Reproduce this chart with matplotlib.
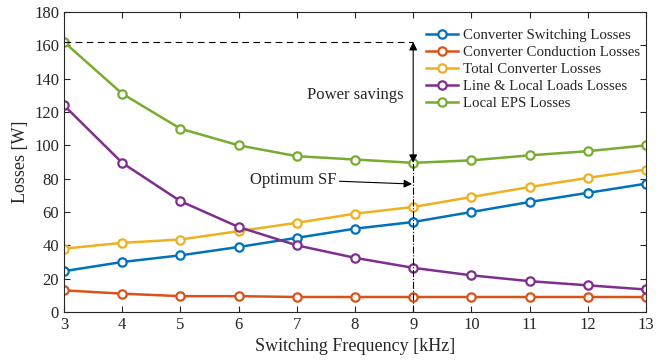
import matplotlib.pyplot as plt
import numpy as np

plt.rcParams['font.family'] = ['Liberation Serif', 'DejaVu Serif']

freq = [3, 4, 5, 6, 7, 8, 9, 10, 11, 12, 13]
switching = [24.5, 30, 34, 39, 44.5, 50, 54, 60, 66, 71.5, 77]
conduction = [13, 11, 9.5, 9.5, 9, 9, 9, 9, 9, 9, 9]
total_conv = [38, 41.5, 43.5, 48.5, 53.5, 59, 63, 69, 75, 80.5, 85.5]
line_loads = [124, 89.5, 66.5, 51, 40, 32.5, 26.5, 22, 18.5, 16, 13.5]
local_eps = [162, 131, 110, 100, 93.5, 91.5, 89.5, 91, 94, 96.5, 100]

series = [
    ("Converter Switching Losses", switching, "#0072BD"),
    ("Converter Conduction Losses", conduction, "#D95319"),
    ("Total Converter Losses", total_conv, "#EDB120"),
    ("Line & Local Loads Losses", line_loads, "#7E2F8E"),
    ("Local EPS Losses", local_eps, "#77AC30"),
]

opt_f = 9
grey = "#262626"

fig = plt.figure(figsize=(6.7, 3.63), dpi=100)
ax = fig.add_axes([0.0955, 0.1405, 0.8687, 0.8264])

for name, vals, col in series:
    ax.plot(freq, vals, color=col, lw=1.8, marker="o", ms=6, mfc="white",
            mec=col, mew=1.6, label=name)

# optimum switching frequency markers
opt_idx = freq.index(opt_f)
ax.plot([freq[0], opt_f], [local_eps[0], local_eps[0]], color="black",
        ls=(0, (6, 4)), lw=0.8)
ax.plot([opt_f, opt_f], [0, local_eps[opt_idx]], color="black",
        ls="-.", lw=0.8)
ax.annotate("", xy=(opt_f, local_eps[0]), xytext=(opt_f, local_eps[opt_idx]),
            arrowprops=dict(arrowstyle="<|-|>", color="black", lw=0.8,
                            shrinkA=0, shrinkB=0, mutation_scale=12))
ax.text(8.84, 130, "Power savings", ha="right", va="center",
        fontsize=12, color=grey)
ax.annotate("Optimum SF", xy=(opt_f - 0.02, 76.8), xytext=(6.2, 79.5),
            ha="left", va="center", fontsize=12, color=grey,
            arrowprops=dict(arrowstyle="-|>", color="black", lw=0.8,
                            shrinkA=0, shrinkB=0, mutation_scale=12))

ax.set_xlim(3, 13)
ax.set_ylim(0, 180)
ax.set_xticks(freq)
ax.set_yticks(np.arange(0, 181, 20))
ax.tick_params(direction="in", top=True, right=True, labelsize=12,
               colors=grey, length=4)
for s in ax.spines.values():
    s.set_color(grey)
    s.set_linewidth(0.8)
ax.set_xlabel("Switching Frequency [kHz]", fontsize=13, color=grey, labelpad=4)
ax.set_ylabel("Losses [W]", fontsize=13, color=grey, labelpad=4)

leg = ax.legend(loc="upper right", bbox_to_anchor=(1.0, 0.965),
                frameon=False, fontsize=10.7, handlelength=2.15,
                labelspacing=0.24, borderaxespad=0.0, handletextpad=0.35)
for t in leg.get_texts():
    t.set_color(grey)

fig.savefig("out.png", dpi=100)
